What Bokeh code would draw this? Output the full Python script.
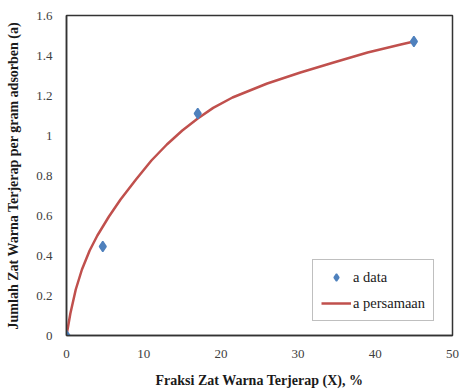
from bokeh.plotting import figure
from bokeh.models import FixedTicker, Range1d, Legend, LegendItem
from bokeh.embed import file_html
from bokeh.resources import INLINE

# Data
x_data = [0, 4.7, 17.0, 45.0]
a_data = [0, 0.445, 1.11, 1.47]

x_eq = [0, 0.5, 1.2, 2.0, 3.0, 4.0, 5.5, 7.0, 9.0, 11.0, 13.0, 15.0, 17.0, 19.0,
        21.5, 26.0, 30.3, 34.6, 39.0, 43.3, 45.0]
a_eq = [0, 0.11, 0.23, 0.33, 0.425, 0.50, 0.595, 0.68, 0.78, 0.875, 0.955, 1.025,
        1.085, 1.138, 1.19, 1.26, 1.315, 1.365, 1.415, 1.455, 1.47]

x_ticks = [0, 10, 20, 30, 40, 50]
y_ticks = [0, 0.2, 0.4, 0.6, 0.8, 1.0, 1.2, 1.4, 1.6]
y_tick_labels = ["0", "0.2", "0.4", "0.6", "0.8", "1", "1.2", "1.4", "1.6"]

FONT = "'Liberation Serif', 'Times New Roman', serif"

p = figure(width=460, height=390, output_backend="svg", toolbar_location=None,
           x_range=Range1d(0, 50), y_range=Range1d(0, 1.6),
           min_border_left=66, min_border_right=8, min_border_top=15, min_border_bottom=54)
p.background_fill_color = "white"
p.border_fill_color = "white"
p.outline_line_color = "#333333"
p.outline_line_width = 1.5
p.xgrid.visible = False
p.ygrid.visible = False

for ax in (p.xaxis[0], p.yaxis[0]):
    ax.major_tick_line_color = None
    ax.minor_tick_line_color = None
    ax.axis_line_color = "#333333"
    ax.axis_line_width = 1.5
    ax.major_label_text_font = FONT
    ax.major_label_text_font_size = "13px"
    ax.major_label_text_color = "#404040"
    ax.axis_label_text_font = FONT
    ax.axis_label_text_font_style = "bold"
    ax.axis_label_text_font_size = "14px"
    ax.axis_label_text_color = "#1a1a1a"

p.xaxis.ticker = FixedTicker(ticks=x_ticks)
p.yaxis.ticker = FixedTicker(ticks=y_ticks)
p.yaxis.major_label_overrides = {t: s for t, s in zip(y_ticks, y_tick_labels)}
p.xaxis.major_label_standoff = 8
p.yaxis.major_label_standoff = 8
p.xaxis.axis_label = "Fraksi Zat Warna Terjerap (X), %"
p.yaxis.axis_label = "Jumlah Zat Warna Terjerap per gram adsorben (a)"
p.xaxis.axis_label_standoff = 12
p.yaxis.axis_label_standoff = 12

line = p.line(x_eq, a_eq, line_color="#C0504D", line_width=2.5, line_join="round")
pts = p.scatter(x_data, a_data, marker="diamond", size=10,
                fill_color="#4F81BD", line_color="#4F81BD", line_width=1.5)

legend = Legend(items=[LegendItem(label="a data", renderers=[pts]),
                       LegendItem(label="a persamaan", renderers=[line])],
                location=(246, 14))
legend.label_text_font = FONT
legend.label_text_font_size = "14.5px"
legend.label_text_color = "#1a1a1a"
legend.border_line_color = "#808080"
legend.border_line_width = 1.5
legend.glyph_width = 30
legend.glyph_height = 18
legend.label_height = 18
legend.spacing = 8
legend.padding = 8
legend.margin = 0
legend.label_standoff = 2
p.add_layout(legend, "center")

open("out.html", "w").write(file_html(p, INLINE))
